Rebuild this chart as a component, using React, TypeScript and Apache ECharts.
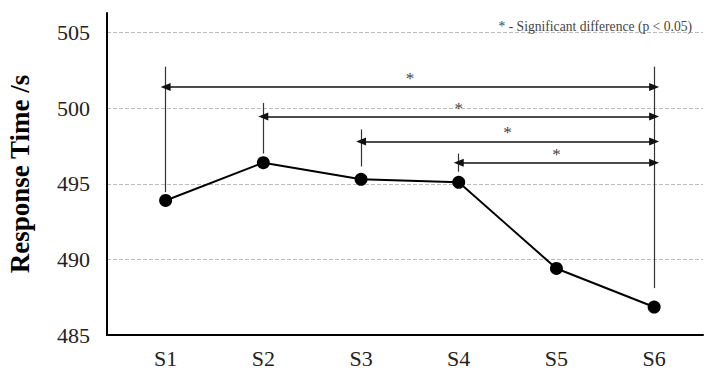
import React, { useEffect, useRef } from "react";
import * as echarts from "echarts";

const categories = ["S1", "S2", "S3", "S4", "S5", "S6"];
const responseTimes = [493.9, 496.4, 495.3, 495.1, 489.4, 486.85];
const yTicks = [485, 490, 495, 500, 505];
// [fromIndex, toIndex, yLevel] significant comparisons (1-based category positions)
const comparisons: [number, number, number][] = [
  [1, 6, 501.4],
  [2, 6, 499.45],
  [3, 6, 497.8],
  [4, 6, 496.4],
];
// [categoryPosition, top, bottom] vertical bracket lines
const brackets: [number, number, number][] = [
  [1, 502.75, 494.45],
  [2, 500.35, 497.0],
  [3, 498.6, 496.15],
  [4, 497.0, 495.8],
  [6, 502.75, 488.1],
];
const legendNote = "* - Significant difference (p < 0.05)";

export default function App() {
  const ref = useRef<HTMLDivElement>(null);
  useEffect(() => {
    if (!ref.current) return;
    const chart = echarts.init(ref.current, null, { renderer: "svg" });
    const serif = "Liberation Serif";
    const positions = categories.map((_, i) => i + 1);

    const markData: any[] = [];
    brackets.forEach(([x, top, bottom]) => {
      markData.push([
        { coord: [x, top], symbol: "none", lineStyle: { color: "#333", width: 1.2, type: "solid" }, label: { show: false } },
        { coord: [x, bottom], symbol: "none" },
      ]);
    });
    comparisons.forEach(([a, b, y]) => {
      markData.push([
        {
          coord: [a, y],
          symbol: "triangle",
          lineStyle: { color: "#111", width: 1.5, type: "solid" },
          label: {
            show: true,
            formatter: "*",
            position: "insideMiddleTop",
            distance: 0,
            color: "#444",
            fontFamily: serif,
            fontSize: 17,
          },
        },
        { coord: [b, y], symbol: "triangle" },
      ]);
    });

    chart.setOption({
      animation: false,
      title: {
        text: legendNote,
        right: 17,
        top: 14,
        textStyle: { fontFamily: serif, fontSize: 13.6, fontWeight: "normal", color: "#444" },
      },
      grid: { left: 107, right: 11, top: 13, bottom: 43, outerBoundsMode: "none", containLabel: false },
      xAxis: {
        type: "value",
        min: 0.4,
        max: 6.5,
        splitLine: { show: false },
        axisLine: { show: true, lineStyle: { color: "#000", width: 2 } },
        axisTick: { show: false },
        axisLabel: {
          customValues: positions,
          formatter: (v: number) => categories[Math.round(v) - 1] ?? "",
          fontFamily: serif,
          fontSize: 22,
          color: "#222",
          margin: 12,
        },
      },
      yAxis: {
        type: "value",
        min: 485,
        max: 506.3,
        interval: 5,
        name: "Response Time /s",
        nameLocation: "middle",
        nameGap: 74,
        nameTextStyle: { fontFamily: serif, fontSize: 27, fontWeight: "bold", color: "#000" },
        axisLine: { show: true, lineStyle: { color: "#000", width: 2 } },
        axisTick: { show: false },
        axisLabel: {
          customValues: yTicks,
          fontFamily: serif,
          fontSize: 22,
          color: "#222",
          margin: 17,
        },
        splitLine: {
          show: true,
          showMinLine: false,
          showMaxLine: false,
          lineStyle: { color: "#bbb", type: "dashed", width: 1 },
        },
      },
      series: [
        {
          type: "line",
          data: positions.map((p, i) => [p, responseTimes[i]]),
          symbol: "circle",
          symbolSize: 13,
          itemStyle: { color: "#000" },
          lineStyle: { color: "#000", width: 2 },
          z: 3,
          markLine: {
            silent: true,
            symbolSize: [8, 10],
            precision: 2,
            data: markData,
          },
        },
      ],
    });
    return () => chart.dispose();
  }, []);
  return (
    <div
      ref={ref}
      style={{ position: "fixed", left: 0, top: 0, width: 714, height: 378, background: "#fff" }}
    />
  );
}
